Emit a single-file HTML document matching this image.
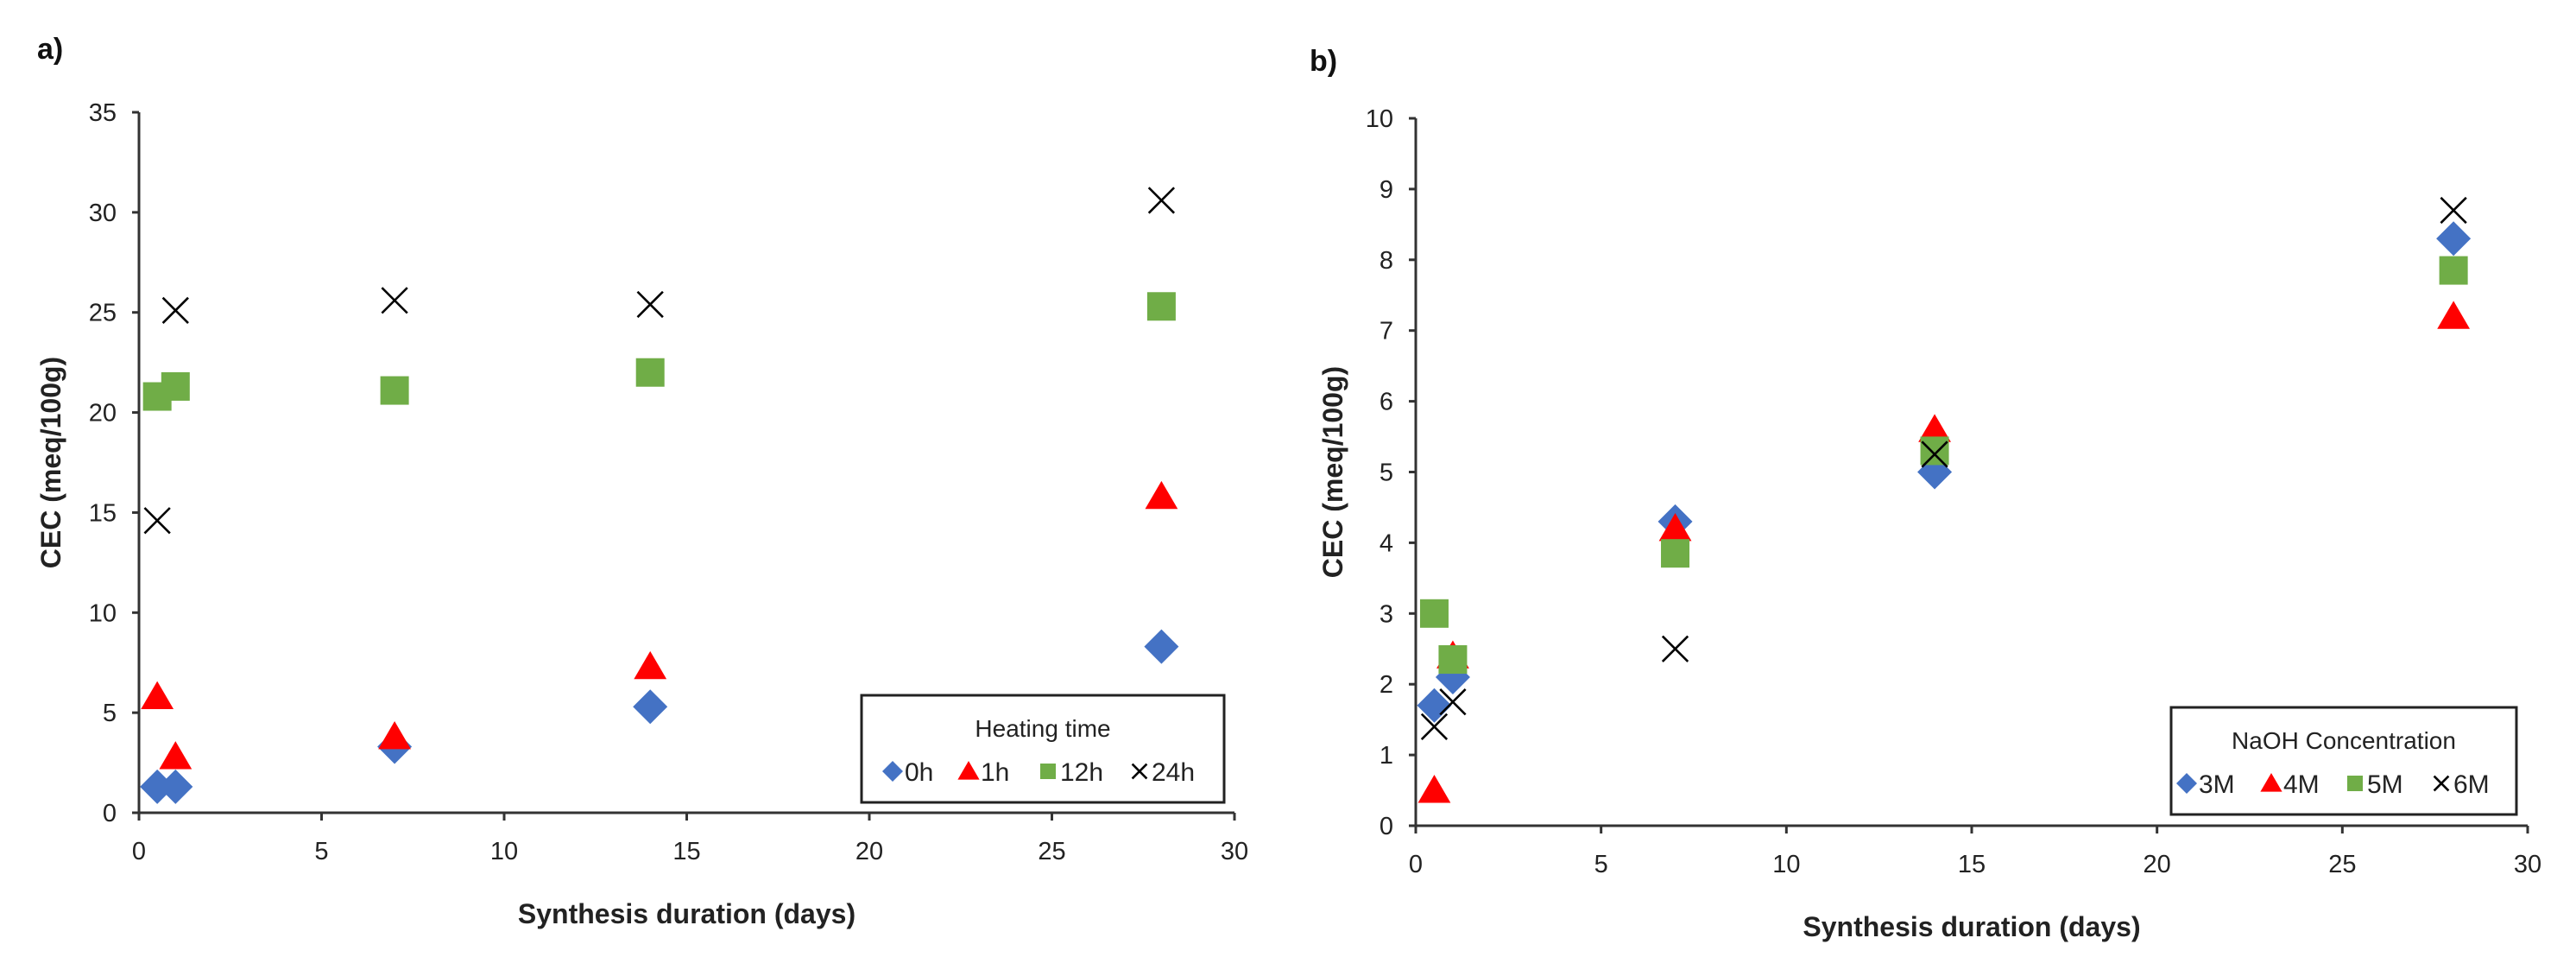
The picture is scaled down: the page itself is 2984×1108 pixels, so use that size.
<!DOCTYPE html>
<html><head><meta charset="utf-8"><style>
html,body{margin:0;padding:0;background:#fff;}
svg{display:block;font-family:"Liberation Sans",Arial,sans-serif;}
</style></head><body>
<svg id="fig" width="2984" height="1108" viewBox="0 0 2984 1108" xmlns="http://www.w3.org/2000/svg"></svg>
<script>
const xDays = [0.5, 1, 7, 14, 28];
const seriesA0h = [1.3, 1.3, 3.3, 5.3, 8.3];
const seriesA1h = [5.8, 2.8, 3.8, 7.3, 15.8];
const seriesA12h = [20.8, 21.3, 21.1, 22.0, 25.3];
const seriesA24h = [14.6, 25.1, 25.6, 25.4, 30.6];
const seriesB3M = [1.7, 2.1, 4.3, 5.0, 8.3];
const seriesB4M = [0.5, 2.4, 4.2, 5.6, 7.2];
const seriesB5M = [3.0, 2.35, 3.85, 5.3, 7.85];
const seriesB6M = [1.4, 1.75, 2.5, 5.25, 8.7];
const xTicks = [0, 5, 10, 15, 20, 25, 30];
const yTicksA = [0, 5, 10, 15, 20, 25, 30, 35];
const yTicksB = [0, 1, 2, 3, 4, 5, 6, 7, 8, 9, 10];

const NS = "http://www.w3.org/2000/svg";
const svg = document.getElementById('fig');
function mk(tag, attrs, parent, text) {
  const e = document.createElementNS(NS, tag);
  for (const k in attrs) e.setAttribute(k, attrs[k]);
  if (text !== undefined) e.textContent = text;
  (parent || svg).appendChild(e);
  return e;
}
function marker(type, cx, cy, g, s) {
  let e;
  if (type === 'diamond') {
    e = mk('polygon', {points: `${cx},${cy-s} ${cx+s},${cy} ${cx},${cy+s} ${cx-s},${cy}`, fill: '#4472C4'}, g);
  } else if (type === 'tri') {
    e = mk('polygon', {points: `${cx},${cy-s} ${cx+s*1.05},${cy+s*0.8} ${cx-s*1.05},${cy+s*0.8}`, fill: '#FF0000'}, g);
  } else if (type === 'square') {
    e = mk('rect', {x: cx-s*0.75, y: cy-s*0.75, width: s*1.5, height: s*1.5, fill: '#70AD47'}, g);
  } else {
    const d = s*0.7;
    e = mk('path', {d: `M${cx-d},${cy-d}L${cx+d},${cy+d}M${cx+d},${cy-d}L${cx-d},${cy+d}`, stroke: '#000', 'stroke-width': 2.6, fill: 'none'}, g);
  }
  return e;
}
function chart(cfg) {
  const g = mk('g', {});
  
  
  const sx = v => cfg.x0 + (v - 0) / 30 * (cfg.x1 - cfg.x0);
  const sy = v => cfg.y0 - v / cfg.ymax * (cfg.y0 - cfg.y1);
  const ax = mk('g', {stroke: '#333', 'stroke-width': 3}, g);
  
  
  mk('line', {x1: cfg.x0, y1: cfg.y0, x2: cfg.x0, y2: cfg.y1}, ax);
  mk('line', {x1: cfg.x0, y1: cfg.y0, x2: cfg.x1, y2: cfg.y0}, ax);
  cfg.yTicks.forEach(t => {
    mk('line', {x1: cfg.x0 - 8, y1: sy(t), x2: cfg.x0, y2: sy(t)}, ax);
    const tl = mk('text', {x: cfg.x0 - 26, y: sy(t) + 10, 'text-anchor': 'end', 'font-size': 29, fill: '#222'}, g, String(t));
    
    
  });
  xTicks.forEach(t => {
    mk('line', {x1: sx(t), y1: cfg.y0, x2: sx(t), y2: cfg.y0 + 9}, ax);
    const tl = mk('text', {x: sx(t), y: cfg.y0 + 54, 'text-anchor': 'middle', 'font-size': 29, fill: '#222'}, g, String(t));
    
    
  });
  const xt = mk('text', {x: (cfg.x0 + cfg.x1) / 2, y: cfg.y0 + 128, 'text-anchor': 'middle', 'font-size': 32, 'font-weight': 'bold', fill: '#222'}, g, 'Synthesis duration (days)');
  
  
  const ycx = cfg.ytx, ycy = (cfg.y0 + cfg.y1) / 2;
  const yt = mk('text', {x: ycx, y: ycy, 'text-anchor': 'middle', 'font-size': 32, 'font-weight': 'bold', fill: '#222', transform: `rotate(-90 ${ycx} ${ycy})`}, g, 'CEC (meq/100g)');
  
  
  const pl = mk('text', {x: cfg.lx, y: cfg.ly, 'font-size': 34, 'font-weight': 'bold', fill: '#111'}, g, cfg.label);
  
  
  const types = ['diamond', 'tri', 'square', 'x'];
  const sizes = [20, 18, 22, 21];
  cfg.series.forEach((vals, si) => {
    const sg = mk('g', {}, g);
    
    
    vals.forEach((v, i) => {
      const m = marker(types[si], sx(xDays[i]), sy(v), sg, sizes[si]);
      
      
    });
  });
  const L = cfg.leg;
  const lg = mk('g', {}, g);
  
  
  mk('rect', {x: L.x, y: L.y, width: L.w, height: L.h, fill: '#fff', stroke: '#222', 'stroke-width': 3}, lg);
  mk('text', {x: L.x + L.w / 2, y: L.y + 48, 'text-anchor': 'middle', 'font-size': 28, fill: '#222'}, lg, cfg.legTitle);
  cfg.names.forEach((n, i) => {
    const ey = L.y + 88;
    const en = mk('g', {}, lg);
    
    
    marker(types[i], L.mx[i], ey, en, 12);
    mk('text', {x: L.mx[i] + 14, y: ey + 11, 'font-size': 30, fill: '#222'}, en, n);
  });
}
chart({name: 'chart-a-heating-time', x0: 161, x1: 1430, y0: 941, y1: 130, ymax: 35, yTicks: yTicksA,
  ytx: 70, lx: 43, ly: 68, label: 'a)',
  series: [seriesA0h, seriesA1h, seriesA12h, seriesA24h], names: ['0h', '1h', '12h', '24h'],
  legTitle: 'Heating time', leg: {x: 998, y: 805, w: 420, h: 124, mx: [1034, 1122, 1214, 1320]}});
chart({name: 'chart-b-naoh-concentration', x0: 1640, x1: 2928, y0: 956, y1: 137, ymax: 10, yTicks: yTicksB,
  ytx: 1555, lx: 1517, ly: 82, label: 'b)',
  series: [seriesB3M, seriesB4M, seriesB5M, seriesB6M], names: ['3M', '4M', '5M', '6M'],
  legTitle: 'NaOH Concentration', leg: {x: 2515, y: 819, w: 400, h: 124, mx: [2533, 2631, 2728, 2828]}});
</script>
</body></html>
